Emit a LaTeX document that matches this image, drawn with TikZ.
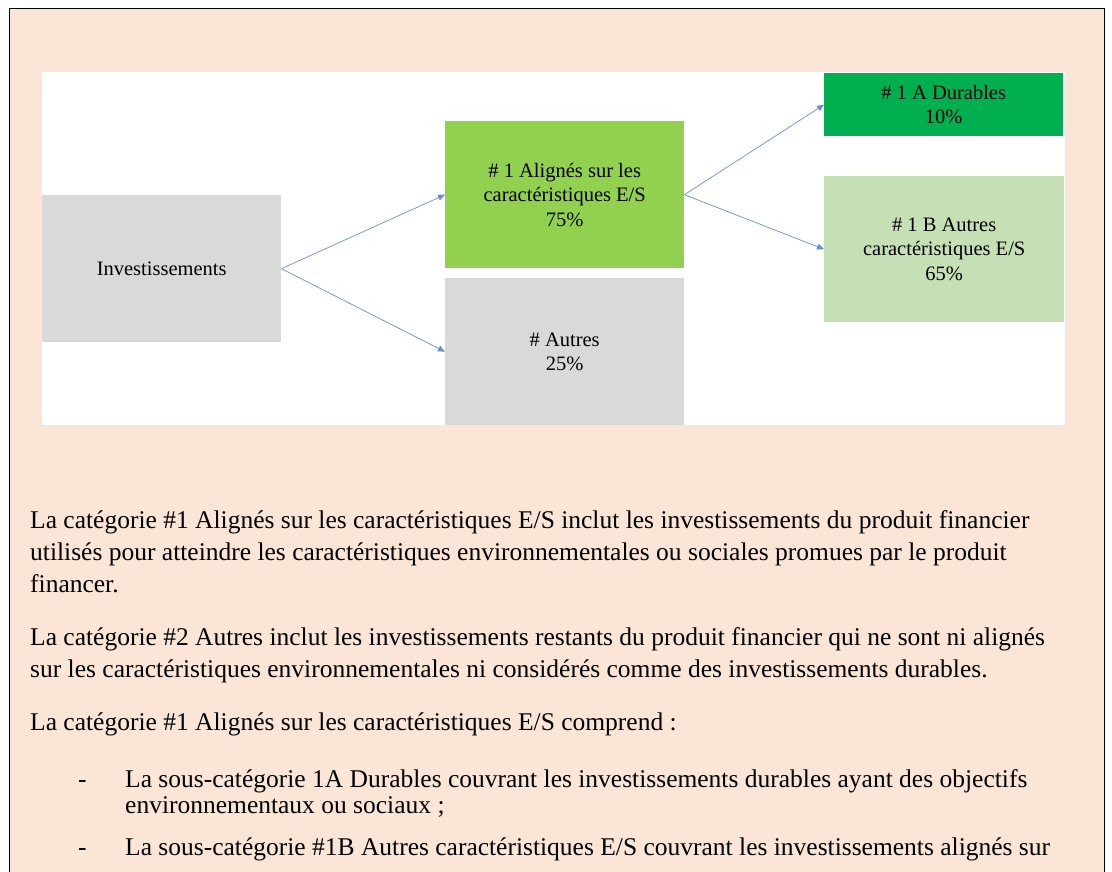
\documentclass[tikz,border=0pt]{standalone}
\usepackage{fontspec}
\setmainfont{Liberation Serif}
\usetikzlibrary{arrows.meta}
\definecolor{peach}{HTML}{FBE5D6}
\definecolor{boxgray}{HTML}{D9D9D9}
\definecolor{lgreen}{HTML}{92D050}
\definecolor{dgreen}{HTML}{00B050}
\definecolor{pgreen}{HTML}{C5E0B4}
\definecolor{arrblue}{HTML}{6A8FD8}
\tikzset{
    catbox/.style = {rectangle, draw=none, anchor=north west, align=center, inner sep=0pt, font=\fontsize{20.5}{24.5}\selectfont},
    edgea/.style = {-{Triangle[length=7pt,width=6pt]}, line width=0.7pt, arrblue},
    para/.style = {anchor=base west, inner sep=0pt, font=\fontsize{25.5}{30}\selectfont},
}

\begin{document}
\begin{tikzpicture}[x=1pt,y=-1pt]
\useasboundingbox (0,0) rectangle (1112,872);
%
\fill[peach] (9.5,8.5) rectangle (1104.5,872);
\draw[line width=1.5pt] (9.5,872) -- (9.5,8.5) -- (1104.5,8.5) -- (1104.5,872);
\fill[white] (42,72) rectangle (1065,425);
%
\node[catbox, fill=boxgray, minimum width=239pt, minimum height=147pt] at (42,195) (inv) {Investissements};
\node[catbox, fill=lgreen, minimum width=239pt, minimum height=147pt] at (445,121) (align) {\# 1 Alignés sur les\\caractéristiques E/S\\75\%};
\node[catbox, fill=boxgray, minimum width=239pt, minimum height=147pt] at (445,278) (autres) {\# Autres\\25\%};
\node[catbox, fill=dgreen, minimum width=239pt, minimum height=63pt] at (824,73) (durab) {\# 1 A Durables\\10\%};
\node[catbox, fill=pgreen, minimum width=240pt, minimum height=146pt] at (824,176) (autrcar) {\# 1 B Autres\\caractéristiques E/S\\65\%};
%
\draw[edgea] (inv.east) -- (align.west);
\draw[edgea] (inv.east) -- (autres.west);
\draw[edgea] (align.east) -- (durab.west);
\draw[edgea] (align.east) -- (autrcar.west);
%
\node[para] at (30,528) (p1a) {La catégorie \#1 Alignés sur les caractéristiques E/S inclut les investissements du produit financier};
\node[para] at (30,560) (p1b) {utilisés pour atteindre les caractéristiques environnementales ou sociales promues par le produit};
\node[para] at (30,592) (p1c) {financer.};
\node[para] at (30,645) (p2a) {La catégorie \#2 Autres inclut les investissements restants du produit financier qui ne sont ni alignés};
\node[para] at (30,677) (p2b) {sur les caractéristiques environnementales ni considérés comme des investissements durables.};
\node[para] at (30,730) (p3) {La catégorie \#1 Alignés sur les caractéristiques E/S comprend :};
\node[para] at (78,787) (d1) {-};
\node[para] at (125,787) (b1a) {La sous-catégorie 1A Durables couvrant les investissements durables ayant des objectifs};
\node[para] at (125,813) (b1b) {environnementaux ou sociaux ;};
\node[para] at (78,855) (d2) {-};
\node[para] at (125,855) (b2) {La sous-catégorie \#1B Autres caractéristiques E/S couvrant les investissements alignés sur};

\end{tikzpicture}
\end{document}
